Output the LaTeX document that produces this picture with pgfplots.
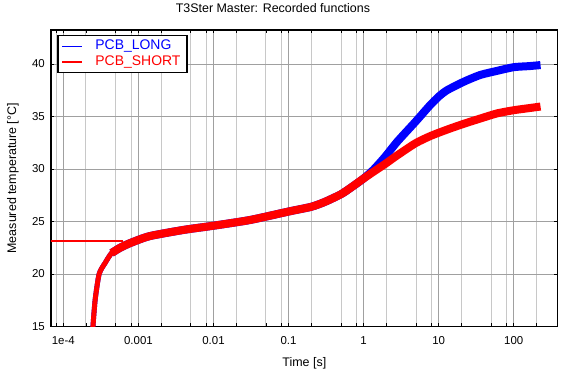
\documentclass[border=0pt]{standalone}
\usepackage{fontspec}
\setmainfont{Liberation Sans}
\usepackage{pgfplots}
\pgfplotsset{compat=1.18}
\definecolor{gridmaj}{RGB}{160,160,160}
\definecolor{gridmin}{RGB}{200,200,200}
\begin{document}
\begin{tikzpicture}
\begin{semilogxaxis}[
  scale only axis, width=506.7bp, height=296.5bp,
  xmin=6.85e-5, xmax=384.5, ymin=15, ymax=43.24,
  xtick={1e-4,1e-3,1e-2,1e-1,1,10,100},
  xticklabels={1e-4,0.001,0.01,0.1,1,10,100},
  minor xtick={8e-5,2e-4,5e-4,8e-4,2e-3,5e-3,8e-3,0.02,0.05,0.08,0.2,0.5,0.8,2,5,8,20,50,80,200},
  ytick={15,20,25,30,35,40},
  /pgf/number format/assume math mode=true,
  grid=both,
  major grid style={gridmaj, line width=1bp},
  minor grid style={gridmin, line width=1bp},
  tick align=inside,
  major tick length=3.5bp, minor tick length=3.5bp,
  every tick/.style={black, line width=0.8bp},
  axis line style={line width=1.5bp},
  tick label style={font=\fontsize{11.5}{13}\selectfont},
  xticklabel style={inner sep=0pt, yshift=-10bp},
  yticklabel style={inner sep=0pt, xshift=-6bp},
  xlabel={Time [s]},
  ylabel={Measured temperature [°C]},
  label style={font=\fontsize{12.5}{14}\selectfont},
  xlabel style={at={(axis description cs:0.5,-0.123)}, anchor=center},
  ylabel style={at={(axis description cs:-0.075,0.5)}, anchor=center},
  title={T3Ster Master: Recorded functions},
  title style={at={(axis description cs:0.438,1.054)}, anchor=center, font=\fontsize{12.5}{14}\selectfont},
  legend style={at={(axis description cs:0,1)}, anchor=north west, xshift=6.3bp, yshift=-5bp,
    draw=black, line width=1.3bp, fill=white,
    font=\fontsize{14}{16}\selectfont,
    inner xsep=3.7bp, inner ysep=4.5bp,
    nodes={inner sep=0pt, text height=9.8bp, text depth=3bp},
    column sep=12.3bp, row sep=2.6bp},
  legend cell align=left,
  legend image code/.code={\draw[#1] (0bp,0bp) -- (20bp,0bp);},
]
\addlegendimage{color=blue, line width=1.5bp}
\addlegendentry{\textcolor{blue}{PCB\_LONG}}
\addlegendimage{color=red, line width=1.5bp}
\addlegendentry{\textcolor{red}{PCB\_SHORT}\hspace*{3bp}}

% thin initial segment (both series coincide; red on top)
\addplot[forget plot, color=red, line width=1.3bp] coordinates {(6.5e-5,23.13) (6.3e-4,23.13)};

% PCB_LONG
\addplot[forget plot, color=blue, line width=5bp, smooth, tension=0.4] coordinates {
 (2.40e-4,13.5) (2.45e-4,14.5) (2.65e-4,17.5) (3.0e-4,20.0) (3.6e-4,21.05) (4.4e-4,22.0) (5.7e-4,22.5)};
\addplot[forget plot, color=blue, line width=8bp, smooth, tension=0.4, line cap=butt] coordinates {
 (4.4e-4,22.0) (5.7e-4,22.5) (7.8e-4,22.95) (1.4e-3,23.6) (4e-3,24.2) (0.01,24.6) (0.031,25.15)
 (0.1,25.95) (0.2,26.4) (0.3,26.85) (0.5,27.6) (0.7,28.3) (1,29.1) (1.36,29.95) (1.95,31.2) (2.8,32.6)
 (4.9,34.5) (7.5,36.0) (10,36.9) (12.9,37.5) (21.4,38.3) (35.5,38.95) (60,39.35) (100,39.7)
 (160,39.8) (227,39.9)};

% PCB_SHORT
\addplot[forget plot, color=red, line width=5bp, smooth, tension=0.4] coordinates {
 (2.40e-4,13.5) (2.45e-4,14.5) (2.65e-4,17.5) (3.0e-4,20.0) (3.6e-4,21.05) (4.4e-4,22.0) (5.7e-4,22.5)};
\addplot[forget plot, color=red, line width=8bp, smooth, tension=0.4, line cap=butt] coordinates {
 (4.4e-4,22.0) (5.7e-4,22.5) (7.8e-4,22.95) (1.4e-3,23.6) (4e-3,24.2) (0.01,24.6) (0.031,25.15)
 (0.1,25.95) (0.2,26.4) (0.3,26.85) (0.5,27.6) (0.7,28.3) (1,29.1) (1.36,29.75) (1.95,30.5) (2.8,31.3)
 (4.9,32.45) (7.8,33.15) (12.9,33.75) (21.4,34.3) (35.5,34.8) (60,35.3) (100,35.6)
 (160,35.8) (227,35.95)};
\end{semilogxaxis}
\pgfresetboundingbox
\path[use as bounding box] ([shift={(-51bp,-52.5bp)}]current axis.south west) rectangle ([shift={(10.3bp,30bp)}]current axis.north east);
\end{tikzpicture}
\end{document}
